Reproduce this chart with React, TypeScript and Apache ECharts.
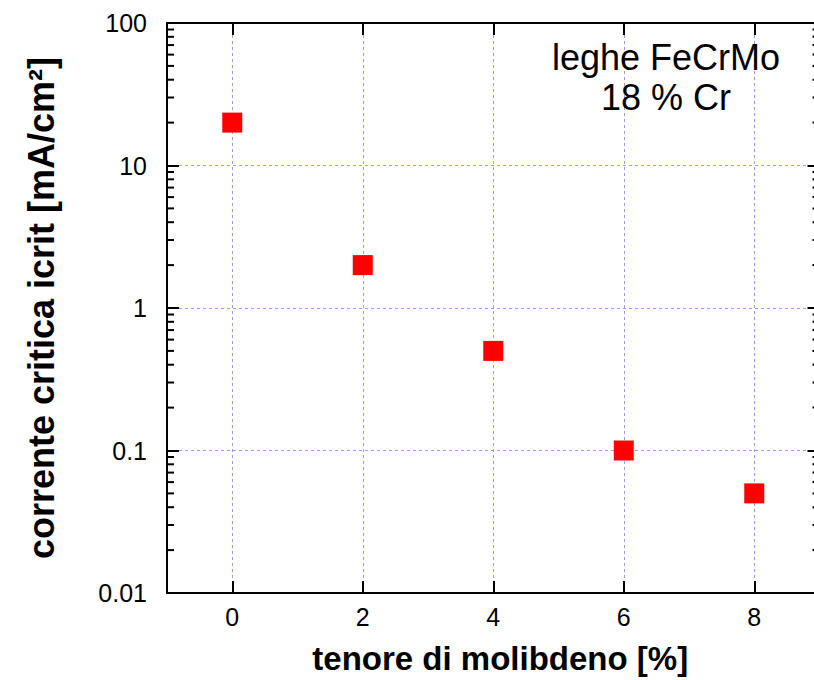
import React, { useEffect, useRef } from "react";
import * as echarts from "echarts";

// Molybdenum content [%] and critical current density [mA/cm²]
const molybdenum = [0, 2, 4, 6, 8];
const criticalCurrent = [20, 2, 0.5, 0.1, 0.05];

const xTicks = [0, 2, 4, 6, 8];
const yTicks = [0.01, 0.1, 1, 10, 100];
const xMin = -1;
const xMax = 9;
const yMin = 0.01;
const yMax = 100;

// log-axis minor tick positions: 2..9 within every decade
const mantissas = [2, 3, 4, 5, 6, 7, 8, 9];
const minorTicks: number[] = [];
yTicks.slice(0, -1).forEach((d) => mantissas.forEach((m) => minorTicks.push(+(d * m).toPrecision(3))));

const FONT = "'Liberation Sans', Arial, Helvetica, sans-serif";
const GRID_COLOR = "#9a9af0";
const MAJOR = 12;
const MINOR = 7;

export default function App() {
  const ref = useRef<HTMLDivElement>(null);

  useEffect(() => {
    document.body.style.margin = "0";
    if (!ref.current) return;
    const chart = echarts.init(ref.current, null, { renderer: "svg" });

    const axisLine = { show: true, onZero: false, lineStyle: { color: "#000", width: 2 } };
    const tick = { show: true, inside: true, length: MAJOR, lineStyle: { color: "#000", width: 2 } };
    const splitLine = { show: true, lineStyle: { color: GRID_COLOR, width: 1, type: [3, 3] } };

    chart.setOption({
      animation: false,
      backgroundColor: "#fff",
      grid: {
        left: 167,
        top: 23,
        bottom: 87,
        right: -5.5,
        containLabel: false,
        outerBoundsMode: "none",
      },
      xAxis: [
        {
          type: "value",
          min: xMin,
          max: xMax,
          position: "bottom",
          axisLine,
          axisTick: { ...tick, customValues: xTicks },
          axisLabel: {
            customValues: xTicks,
            margin: 11,
            fontSize: 25,
            lineHeight: 25,
            color: "#000",
            fontFamily: FONT,
          },
          splitLine,
          name: "tenore di molibdeno [%]",
          nameLocation: "middle",
          nameGap: 49,
          nameTextStyle: {
            fontSize: 33,
            lineHeight: 32,
            fontWeight: "bold",
            color: "#000",
            fontFamily: FONT,
            padding: [0, 0, 0, 14],
          },
        },
        {
          type: "value",
          min: xMin,
          max: xMax,
          position: "top",
          axisLine,
          axisTick: { ...tick, customValues: xTicks },
          axisLabel: { show: false },
          splitLine: { show: false },
        },
      ],
      yAxis: [
        {
          type: "log",
          logBase: 10,
          min: yMin,
          max: yMax,
          position: "left",
          axisLine,
          axisTick: tick,
          axisLabel: {
            margin: 20,
            fontSize: 25,
            color: "#000",
            fontFamily: FONT,
            formatter: (v: number) => String(+v.toPrecision(2)),
          },
          splitLine,
          name: "corrente critica icrit [mA/cm²]",
          nameLocation: "middle",
          nameGap: 108,
          nameTextStyle: {
            fontSize: 36,
            lineHeight: 36,
            fontWeight: "bold",
            color: "#000",
            fontFamily: FONT,
          },
        },
        {
          type: "log",
          logBase: 10,
          min: yMin,
          max: yMax,
          position: "right",
          axisLine,
          axisTick: tick,
          axisLabel: { show: false },
          splitLine: { show: false },
        },
      ],
      graphic: [
        {
          type: "text",
          x: 666,
          y: 37.5,
          z: 100,
          style: {
            text: "leghe FeCrMo\n18 % Cr",
            fontSize: 36,
            lineHeight: 40,
            fontFamily: FONT,
            fill: "#000",
            align: "center",
            verticalAlign: "top",
          },
        },
      ],
      series: [
        {
          // minor ticks of the log axis on the left and right frame sides
          type: "custom",
          coordinateSystem: "cartesian2d",
          xAxisIndex: 0,
          yAxisIndex: 0,
          clip: false,
          silent: true,
          z: 5,
          encode: { x: 0, y: 1 },
          data: minorTicks.map((v) => [xMin, v]),
          renderItem: (_params: any, api: any) => {
            const v = api.value(1);
            const l = api.coord([xMin, v]);
            const r = api.coord([xMax, v]);
            const style = { stroke: "#000", lineWidth: 2 };
            return {
              type: "group",
              children: [
                { type: "line", shape: { x1: l[0], y1: l[1], x2: l[0] + MINOR, y2: l[1] }, style },
                { type: "line", shape: { x1: r[0], y1: r[1], x2: r[0] - MINOR, y2: r[1] }, style },
              ],
            };
          },
        },
        {
          type: "scatter",
          xAxisIndex: 0,
          yAxisIndex: 0,
          symbol: "rect",
          symbolSize: [20, 20],
          itemStyle: { color: "#ff0000", opacity: 1 },
          data: molybdenum.map((x, i) => [x, criticalCurrent[i]]),
          z: 10,
        },
      ],
    });

    return () => chart.dispose();
  }, []);

  return <div ref={ref} style={{ width: 814, height: 680 }} />;
}
